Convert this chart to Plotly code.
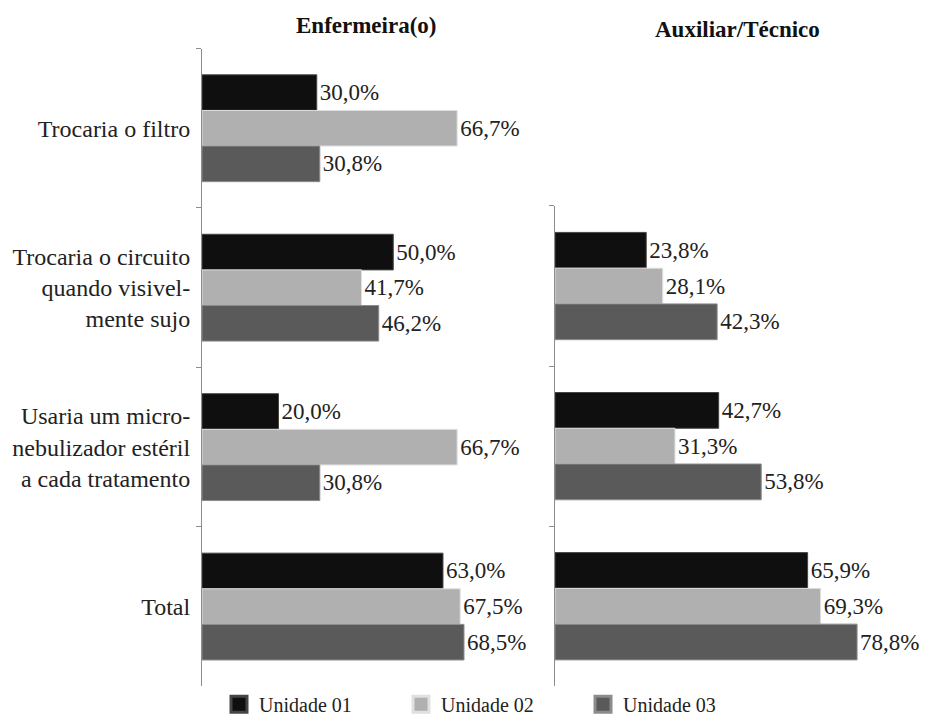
import plotly.graph_objects as go

categories_left = [
    "Trocaria o filtro",
    "Trocaria o circuito<br>quando visivel-<br>mente sujo",
    "Usaria um micro-<br>nebulizador estéril<br>a cada tratamento",
    "Total",
]
categories_right = categories_left[1:]

series_names = ["Unidade 01", "Unidade 02", "Unidade 03"]
enf_u01 = [30.0, 50.0, 20.0, 63.0]
enf_u02 = [66.7, 41.7, 66.7, 67.5]
enf_u03 = [30.8, 46.2, 30.8, 68.5]
aux_u01 = [23.8, 42.7, 65.9]
aux_u02 = [28.1, 31.3, 69.3]
aux_u03 = [42.3, 53.8, 78.8]

colors = ["#0f0f0f", "#b0b0b0", "#5a5a5a"]
edge = ["#454545", "#e0e0e0", "#8c8c8c"]
FONT = "Liberation Serif, Times New Roman, serif"


def fmt(vals):
    return [f"{v:.1f}%".replace(".", ",") for v in vals]


W, H = 926, 724
fig = go.Figure()
left_vals = [enf_u01, enf_u02, enf_u03]
right_vals = [aux_u01, aux_u02, aux_u03]
for i, name in enumerate(series_names):
    fig.add_trace(go.Bar(
        y=categories_left, x=left_vals[i], orientation="h", name=name,
        marker=dict(color=colors[i], line=dict(color=edge[i], width=1)),
        text=fmt(left_vals[i]), textposition="outside",
        textfont=dict(family=FONT, size=23, color="#222222"),
        cliponaxis=False, xaxis="x", yaxis="y", showlegend=False,
    ))
for i, name in enumerate(series_names):
    fig.add_trace(go.Bar(
        y=categories_right, x=right_vals[i], orientation="h", name=name,
        marker=dict(color=colors[i], line=dict(color=edge[i], width=1)),
        text=fmt(right_vals[i]), textposition="outside",
        textfont=dict(family=FONT, size=23, color="#222222"),
        cliponaxis=False, xaxis="x2", yaxis="y2", showlegend=False,
    ))
# legend entries (larger square swatches)
for i, name in enumerate(series_names):
    fig.add_trace(go.Scatter(
        x=[None], y=[None], mode="markers", name=name,
        marker=dict(symbol="square", size=16, color=colors[i],
                    line=dict(color=edge[i], width=3)),
        xaxis="x", yaxis="y", showlegend=True,
    ))

ybot = (H - 693) / H
fig.update_layout(
    width=W, height=H,
    margin=dict(l=0, r=0, t=0, b=0),
    paper_bgcolor="white", plot_bgcolor="white",
    barmode="group", bargap=0.33, bargroupgap=0.0,
    font=dict(family=FONT, size=23, color="#222222"),
    uniformtext=dict(minsize=23, mode="show"),
    xaxis=dict(domain=[202 / W, 508 / W], range=[0, 80], visible=False),
    xaxis2=dict(domain=[555 / W, 900 / W], range=[0, 90], visible=False),
    yaxis=dict(
        domain=[ybot, (H - 49) / H], anchor="x",
        categoryorder="array", categoryarray=categories_left,
        range=[3.5, -0.5], showline=True, linecolor="#8c8c8c", linewidth=1,
        ticks="outside", tickson="boundaries", ticklen=5, tickcolor="#8c8c8c",
        showgrid=False, zeroline=False, ticklabelstandoff=6,
        tickfont=dict(family=FONT, size=24, color="#222222"),
    ),
    yaxis2=dict(
        domain=[ybot, (H - 208) / H], anchor="x2",
        categoryorder="array", categoryarray=categories_right,
        range=[2.5, -0.5], showline=True, linecolor="#8c8c8c", linewidth=1,
        ticks="outside", tickson="boundaries", ticklen=5, tickcolor="#8c8c8c",
        showgrid=False, zeroline=False, showticklabels=False,
    ),
    legend=dict(
        orientation="h", x=219 / W, xanchor="left", y=(H - 711) / H,
        yanchor="middle", entrywidth=137, entrywidthmode="pixels",
        itemsizing="trace",
        font=dict(family=FONT, size=20, color="#222222"),
        bgcolor="rgba(0,0,0,0)",
    ),
    annotations=[
        dict(text="<b>Enfermeira(o)</b>", x=366 / W, y=(H - 26) / H,
             xref="paper", yref="paper", showarrow=False,
             xanchor="center", yanchor="middle",
             font=dict(family=FONT, size=23, color="#111111")),
        dict(text="<b>Auxiliar/Técnico</b>", x=737 / W, y=(H - 30) / H,
             xref="paper", yref="paper", showarrow=False,
             xanchor="center", yanchor="middle",
             font=dict(family=FONT, size=23, color="#111111")),
    ],
)

fig.write_html("out.html")
